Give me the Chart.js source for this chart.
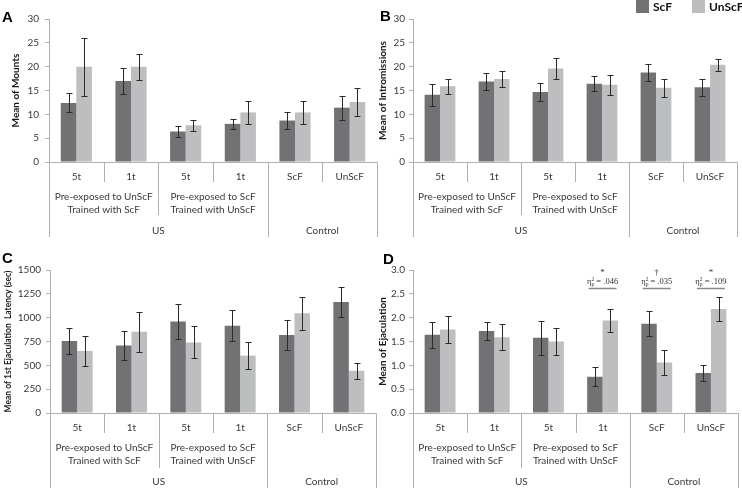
<!DOCTYPE html>
<html>
<head>
<meta charset="utf-8">
<script src="https://cdn.jsdelivr.net/npm/chart.js@4.4.0/dist/chart.umd.min.js"></script>
<style>
  body { margin: 0; background: #fff; }
  #wrap { position: relative; width: 742px; height: 488px; overflow: hidden; }
  canvas { position: absolute; }
</style>
</head>
<body>
<div id="wrap">
  <canvas id="chartA" width="380" height="244" style="left:0;top:0"></canvas>
  <canvas id="chartB" width="370" height="244" style="left:372px;top:0"></canvas>
  <canvas id="chartC" width="380" height="244" style="left:0;top:244px"></canvas>
  <canvas id="chartD" width="370" height="244" style="left:372px;top:244px"></canvas>
</div>
<script>
// categories and the two grouping levels below them
const categories = ["5t", "1t", "5t", "1t", "ScF", "UnScF"];
const middleGroups = [
  { label: ["Pre-exposed to UnScF", "Trained with ScF"], from: 0, to: 2 },
  { label: ["Pre-exposed to ScF", "Trained with UnScF"], from: 2, to: 4 },
  { label: [], from: 4, to: 6 },
];
const outerGroups = [
  { label: "US", from: 0, to: 4 },
  { label: "Control", from: 4, to: 6 },
];

// A - mounts
const mountsScF = [12.4, 17.0, 6.4, 8.0, 8.7, 11.4];
const mountsScFErr = [2.0, 2.8, 1.1, 1.1, 1.7, 2.5];
const mountsUnScF = [20.0, 20.0, 7.7, 10.4, 10.4, 12.6];
const mountsUnScFErr = [6.1, 2.7, 1.1, 2.5, 2.5, 3.0];

// B - intromissions
const intromScF = [14.1, 16.9, 14.7, 16.4, 18.8, 15.7];
const intromScFErr = [2.3, 1.7, 1.9, 1.6, 1.8, 1.8];
const intromUnScF = [15.9, 17.4, 19.6, 16.2, 15.6, 20.4];
const intromUnScFErr = [1.6, 1.6, 2.2, 2.1, 1.9, 1.3];

// C - latency to 1st ejaculation (sec)
const latencyScF = [755, 707, 961, 916, 818, 1165];
const latencyScFErr = [135, 155, 185, 165, 155, 158];
const latencyUnScF = [651, 852, 740, 602, 1046, 443];
const latencyUnScFErr = [160, 208, 168, 143, 173, 82];

// D - ejaculations
const ejacScF = [1.64, 1.72, 1.58, 0.76, 1.87, 0.84];
const ejacScFErr = [0.27, 0.18, 0.36, 0.2, 0.26, 0.17];
const ejacUnScF = [1.75, 1.59, 1.5, 1.94, 1.06, 2.18];
const ejacUnScFErr = [0.29, 0.27, 0.29, 0.24, 0.27, 0.25];

// significance marks over panel D
const sigMarks = ["", "", "", "*", "\u2020", "*"];
const etaValues = ["", "", "", ".046", ".035", ".109"];

const DARK = "#727274";
const LIGHT = "#bdbebf";
const AXIS = "#b0b0b0";
const TEXT = "#3a3a3a";

Chart.defaults.font.family = "Lato";
Chart.defaults.font.size = 10;
Chart.defaults.color = TEXT;

function makeDecor(cfg) {
  return {
    id: "decor",
    afterDatasetsDraw(chart) {
      const ctx = chart.ctx;
      const yScale = chart.scales.y;
      ctx.save();
      ctx.strokeStyle = "#2a2a2a";
      ctx.lineWidth = 1;
      chart.data.datasets.forEach((ds, i) => {
        chart.getDatasetMeta(i).data.forEach((bar, j) => {
          const v = ds.data[j], e = ds.errors[j];
          const x = Math.round(bar.x) + 0.5;
          const yt = Math.round(yScale.getPixelForValue(v + e)) + 0.5;
          const yb = Math.round(yScale.getPixelForValue(v - e)) + 0.5;
          ctx.beginPath();
          ctx.moveTo(x, yt); ctx.lineTo(x, yb);
          ctx.moveTo(x - 3, yt); ctx.lineTo(x + 3, yt);
          ctx.moveTo(x - 3, yb); ctx.lineTo(x + 3, yb);
          ctx.stroke();
        });
      });
      ctx.restore();
    },
    afterDraw(chart) {
      const ctx = chart.ctx;
      const xs = chart.scales.x;
      const y0 = xs.top;
      const n = categories.length;
      const centers = categories.map((c, i) => xs.getPixelForValue(i));
      const edgeX = k => (k === 0 ? xs.left : k === n ? xs.right : (centers[k - 1] + centers[k]) / 2);
      const spanCenter = (a, b) => (edgeX(a) + edgeX(b)) / 2;

      ctx.save();
      // divider lines below the axis
      ctx.strokeStyle = AXIS;
      ctx.lineWidth = 1;
      for (let k = 0; k <= n; k++) {
        let len = 20;
        if (middleGroups.some(g => g.from === k || g.to === k)) len = cfg.midLen;
        if (outerGroups.some(g => g.from === k || g.to === k)) len = 75;
        const x = Math.round(edgeX(k)) + 0.5;
        ctx.beginPath();
        ctx.moveTo(x, y0); ctx.lineTo(x, y0 + len);
        ctx.stroke();
      }

      // category labels
      ctx.fillStyle = TEXT;
      ctx.font = "10px Lato";
      ctx.textAlign = "center";
      ctx.textBaseline = "middle";
      categories.forEach((c, i) => ctx.fillText(c, centers[i], y0 + 15));
      middleGroups.forEach(g => {
        g.label.forEach((line, li) => ctx.fillText(line, spanCenter(g.from, g.to), y0 + 35 + li * 13));
      });
      outerGroups.forEach(g => ctx.fillText(g.label, spanCenter(g.from, g.to), y0 + 69));

      // panel letter
      ctx.fillStyle = "#000";
      ctx.font = 'bold 15px "Liberation Sans"';
      ctx.textAlign = "left";
      ctx.fillText(cfg.letter, cfg.letterX, cfg.letterY);

      // legend (panel B only)
      if (cfg.legend) {
        let lx = cfg.legend.x;
        ctx.font = "bold 12px Lato";
        chart.data.datasets.forEach(ds => {
          ctx.fillStyle = ds.backgroundColor;
          ctx.fillRect(lx, 0, 13, 13);
          ctx.fillStyle = "#111";
          ctx.fillText(ds.label, lx + 17, 7);
          lx += cfg.legend.step;
        });
      }

      // significance marks (panel D only)
      if (cfg.sig) {
        const top = chart.chartArea.top;
        cfg.sig.marks.forEach((m, i) => {
          if (!m) return;
          const cx = centers[i];
          ctx.fillStyle = "#333";
          ctx.textAlign = "center";
          ctx.font = '9px "Liberation Serif"';
          ctx.fillText(m, cx, top + 3);
          drawEta(ctx, cx, top + 14, cfg.sig.eta[i]);
          ctx.strokeStyle = "#8a8a8a";
          ctx.lineWidth = 1.5;
          ctx.beginPath();
          ctx.moveTo(cx - 14, top + 18.5); ctx.lineTo(cx + 14, top + 18.5);
          ctx.stroke();
        });
      }
      ctx.restore();
    },
  };
}

function drawEta(ctx, cx, y, value) {
  const big = '8.5px "Liberation Serif"';
  const small = '5.5px "Liberation Serif"';
  const rest = " = " + value;
  ctx.font = big;
  const wEta = ctx.measureText("\u03b7").width;
  const wRest = ctx.measureText(rest).width;
  ctx.font = small;
  const wSub = ctx.measureText("p").width;
  let x = cx - (wEta + wSub + wRest) / 2;
  ctx.textAlign = "left";
  ctx.textBaseline = "alphabetic";
  ctx.fillStyle = "#333";
  ctx.font = big;
  ctx.fillText("\u03b7", x, y);
  x += wEta;
  ctx.font = small;
  ctx.fillText("2", x, y - 3.5);
  ctx.fillText("p", x, y + 1.5);
  x += wSub;
  ctx.font = big;
  ctx.fillText(rest, x, y);
  ctx.textBaseline = "middle";
}

function makePanel(id, cfg) {
  return new Chart(document.getElementById(id), {
    type: "bar",
    data: {
      labels: categories,
      datasets: [
        { label: "ScF", data: cfg.scf, errors: cfg.scfErr, backgroundColor: DARK },
        { label: "UnScF", data: cfg.unscf, errors: cfg.unscfErr, backgroundColor: LIGHT },
      ],
    },
    options: {
      responsive: false,
      animation: false,
      categoryPercentage: 0.57,
      barPercentage: 1,
      layout: { padding: { top: cfg.top, right: cfg.right, left: 0, bottom: 0 } },
      plugins: { legend: { display: false }, tooltip: { enabled: false } },
      scales: {
        x: {
          grid: { display: false },
          border: { color: AXIS },
          ticks: { display: false },
          afterFit: s => { s.height = cfg.xHeight; },
        },
        y: {
          min: 0,
          max: cfg.max,
          ticks: {
            stepSize: cfg.step,
            padding: cfg.tickPad,
            color: TEXT,
            callback: cfg.fmt || (v => v),
          },
          grid: { drawOnChartArea: false, tickLength: 4, color: AXIS },
          border: { color: AXIS },
          title: {
            display: true,
            text: cfg.title,
            color: "#1a1a1a",
            font: { weight: "bold", size: cfg.titleSize || 10 },
            padding: { top: cfg.titlePad, bottom: 0 },
          },
          afterFit: s => { s.width = cfg.axisX; },
        },
      },
    },
    plugins: [makeDecor(cfg)],
  });
}

makePanel("chartA", {
  scf: mountsScF, scfErr: mountsScFErr, unscf: mountsUnScF, unscfErr: mountsUnScFErr,
  max: 30, step: 5, title: "Mean of Mounts",
  top: 19, right: 3, xHeight: 82, axisX: 49, titlePad: 10, tickPad: 6, midLen: 53,
  letter: "A", letterX: 2, letterY: 18,
});

makePanel("chartB", {
  scf: intromScF, scfErr: intromScFErr, unscf: intromUnScF, unscfErr: intromUnScFErr,
  max: 30, step: 5, title: "Mean of Intromissions",
  top: 19, right: 5, xHeight: 82, axisX: 41, titlePad: 5, tickPad: 4, midLen: 53,
  letter: "B", letterX: 8, letterY: 17,
  legend: { x: 264, step: 56 },
});

makePanel("chartC", {
  scf: latencyScF, scfErr: latencyScFErr, unscf: latencyUnScF, unscfErr: latencyUnScFErr,
  max: 1500, step: 250, title: "Mean of 1st Ejaculation  Latency (sec)", titleSize: 8.5,
  top: 26, right: 4, xHeight: 75, axisX: 50, titlePad: 3, tickPad: 5, midLen: 55,
  letter: "C", letterX: 2, letterY: 15,
});

makePanel("chartD", {
  scf: ejacScF, scfErr: ejacScFErr, unscf: ejacUnScF, unscfErr: ejacUnScFErr,
  max: 3, step: 0.5, title: "Mean of Ejaculation", fmt: v => v.toFixed(1),
  top: 26, right: 4, xHeight: 75, axisX: 41, titlePad: 5, tickPad: 4, midLen: 55,
  letter: "D", letterX: 11, letterY: 16,
  sig: { marks: sigMarks, eta: etaValues },
});
</script>
</body>
</html>
